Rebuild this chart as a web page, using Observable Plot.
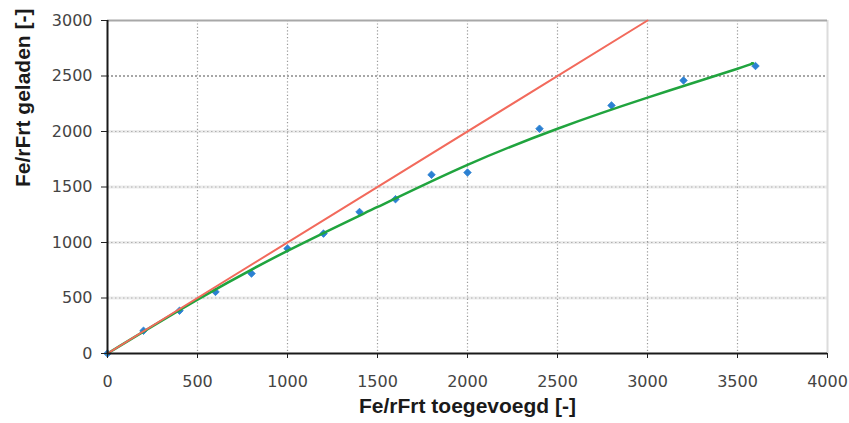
<!DOCTYPE html>
<html>
<head>
<meta charset="utf-8">
<script src="https://cdn.jsdelivr.net/npm/d3@7"></script>
<script src="https://cdn.jsdelivr.net/npm/@observablehq/plot@0.6"></script>
<style>
  html, body { margin: 0; padding: 0; background: #fff; overflow: hidden; }
</style>
</head>
<body>
<div id="chart"></div>
<script>
// Measured points (blue diamonds)
const measuredX = [0, 200, 400, 600, 800, 1000, 1200, 1400, 1600, 1800, 2000, 2400, 2800, 3200, 3600];
const measuredY = [0, 205, 385, 555, 720, 945, 1080, 1275, 1390, 1610, 1630, 2025, 2235, 2460, 2590];

// Fitted curve (green)
const fitX = [0, 500, 1000, 1500, 2000, 2500, 3000, 3500, 3580];
const fitY = [0, 485, 925, 1320, 1700, 2025, 2305, 2565, 2615];

// Identity line (red)
const identityX = [0, 3000];
const identityY = [0, 3000];

// Axis ticks
const xTicks = [0, 500, 1000, 1500, 2000, 2500, 3000, 3500, 4000];
const yTicks = [0, 500, 1000, 1500, 2000, 2500, 3000];
const lightGridY = [500, 1000, 1500, 2000];
const darkGridY = [2500];

const xTitle = "Fe/rFrt toegevoegd [-]";
const yTitle = "Fe/rFrt geladen [-]";

const measured = measuredX.map((x, i) => ({x, y: measuredY[i]}));
const fit = fitX.map((x, i) => ({x, y: fitY[i]}));
const identity = identityX.map((x, i) => ({x, y: identityY[i]}));

const chart = Plot.plot({
  width: 849,
  height: 423,
  marginLeft: 107,
  marginRight: 22,
  marginTop: 20,
  marginBottom: 70,
  style: { fontFamily: "'DejaVu Sans', sans-serif", fontSize: "16px", color: "#444", background: "#fff", overflow: "visible" },
  x: { domain: [0, 4000] },
  y: { domain: [0, 3000] },
  marks: [
    Plot.ruleY(lightGridY, { stroke: "#ececec", strokeWidth: 3 }),
    Plot.ruleY(lightGridY, { stroke: "#b0b0b0", strokeDasharray: "1.5,2.5", strokeWidth: 1.2 }),
    Plot.ruleY(darkGridY, { stroke: "#8a8a8a", strokeDasharray: "2,2", strokeWidth: 1.5 }),
    Plot.ruleX(xTicks.slice(1, -1), { stroke: "#9a9a9a", strokeDasharray: "1.2,2.2", strokeWidth: 1.2 }),
    Plot.ruleX([4000], { stroke: "#dcdcdc", strokeWidth: 2 }),
    Plot.ruleY([3000], { stroke: "#a8a8a8", strokeWidth: 2 }),
    Plot.dot(measured, { x: "x", y: "y", symbol: "diamond2", r: 3.4, fill: "#2b80d2", stroke: "#2b80d2", strokeWidth: 0.8 }),
    Plot.line(fit, { x: "x", y: "y", stroke: "#20a43e", strokeWidth: 2.5, curve: "natural" }),
    Plot.line(identity, { x: "x", y: "y", stroke: "#f26a5c", strokeWidth: 2 }),
    Plot.axisX({ ticks: xTicks, tickSize: 5, tickPadding: 17, tickFormat: d => String(d), label: null, stroke: "#222" }),
    Plot.axisY({ ticks: yTicks, tickSize: 6, tickPadding: 9, tickFormat: d => String(d), label: null, stroke: "#222" }),
    Plot.ruleX([0], { stroke: "#1a1a1a", strokeWidth: 2 }),
    Plot.ruleY([0], { stroke: "#1a1a1a", strokeWidth: 2 }),
    Plot.text([xTitle], { frameAnchor: "bottom", dy: 59, text: d => d, fontSize: 21, fontWeight: "bold", fontFamily: "'Liberation Sans', Arial, sans-serif", fill: "#1a1a1a", letterSpacing: 1.4 }),
    Plot.text([yTitle], { frameAnchor: "left", dx: -84, rotate: -90, text: d => d, fontSize: 21, fontWeight: "bold", fontFamily: "'Liberation Sans', Arial, sans-serif", fill: "#1a1a1a", letterSpacing: 1.4 })
  ]
});

document.getElementById("chart").appendChild(chart);
</script>
</body>
</html>
